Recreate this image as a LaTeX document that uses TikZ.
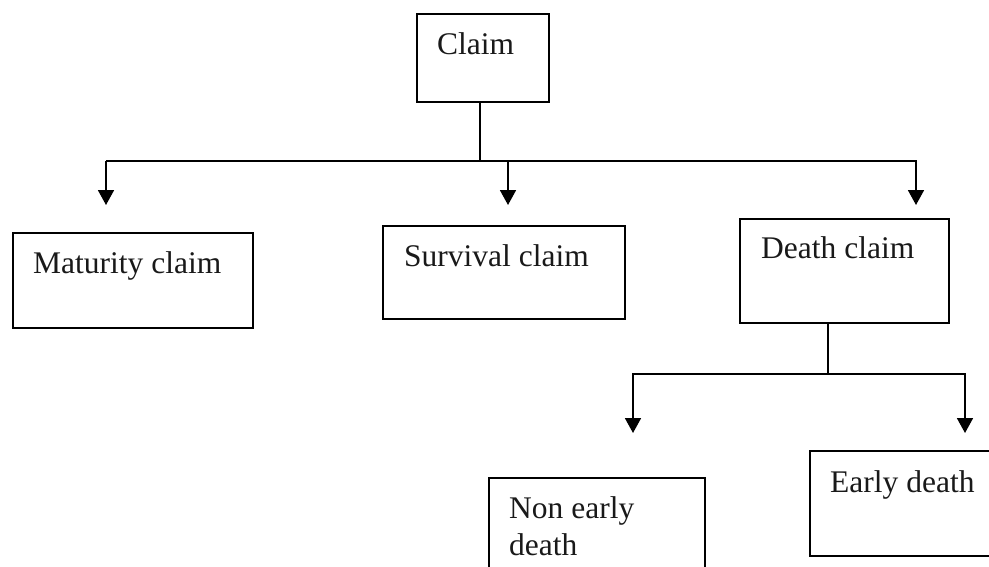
\documentclass[tikz,border=0pt]{standalone}
\usepackage{fontspec}
\setmainfont{Liberation Serif}
\usetikzlibrary{arrows.meta}
\tikzset{
  boxnode/.style={draw=black, line width=1.5pt, rectangle, anchor=north west, inner sep=0pt},
  lbl/.style={anchor=base west, inner sep=0pt, font=\fontsize{31.5}{37}\selectfont, text=black!90},
  conn/.style={line width=1.8pt, draw=black},
  arr/.style={conn, -{Triangle[length=15pt,width=16pt]}},
}
\begin{document}
\begin{tikzpicture}[x=1pt,y=-1pt]
\useasboundingbox (0,0) rectangle (989,566);
\clip (0,0) rectangle (989,566);
% boxes
\node[boxnode, minimum width=132pt, minimum height=88pt] (claim) at (416,13) {};
\node[lbl] (claimt) at (437,54) {Claim};
\node[boxnode, minimum width=240pt, minimum height=95pt] (mat) at (12,232) {};
\node[lbl] (matt) at (33,273) {Maturity claim};
\node[boxnode, minimum width=242pt, minimum height=93pt] (surv) at (382,225) {};
\node[lbl] (survt) at (404,266) {Survival claim};
\node[boxnode, minimum width=209pt, minimum height=104pt] (death) at (739,218) {};
\node[lbl] (deatht) at (761,258) {Death claim};
\node[boxnode, minimum width=216pt, minimum height=110pt] (nonearly) at (488,477) {};
\node[lbl] (nonearlyt) at (509,518) {Non early};
\node[lbl] (nonearlyt2) at (509,555) {death};
\node[boxnode, minimum width=200pt, minimum height=105pt] (early) at (809,450) {};
\node[lbl] (earlyt) at (830,492) {Early death};
% first level connectors
\coordinate (hc) at (480,161);
\coordinate (hl) at (106,161);
\coordinate (hm) at (508,161);
\coordinate (hr) at (916,161);
\coordinate (a1) at (106,205);
\coordinate (a2) at (508,205);
\coordinate (a3) at (916,205);
\draw[conn] (hc |- claim.south) -- (hc);
\draw[arr] (hl) -- (a1);
\draw[arr] (hl) -- (hr) -- (a3);
\draw[arr] (hm) -- (a2);
% second level connectors
\coordinate (d1) at (828,374);
\coordinate (dl) at (633,374);
\coordinate (dr) at (965,374);
\coordinate (b1) at (633,433);
\coordinate (b2) at (965,433);
\draw[conn] (d1 |- death.south) -- (d1);
\draw[arr] (dr) -- (dl) -- (b1);
\draw[arr] (dl) -- (dr) -- (b2);
\end{tikzpicture}
\end{document}
